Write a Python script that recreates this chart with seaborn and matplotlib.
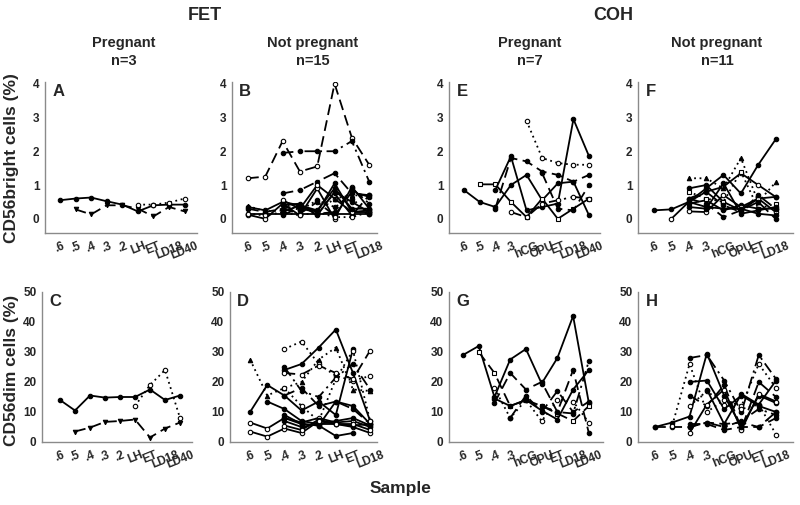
import numpy as np
import seaborn as sns
import matplotlib.pyplot as plt

nan = np.nan

# x categories
fet_days = [".6", ".5", ".4", ".3", ".2", "LH", "ET", "LD18", "LD40"]
fet_days_np = fet_days[:8]
coh_days = [".6", ".5", ".4", ".3", "hCG", "OPU", "ET", "LD18", "LD40"]
coh_days_np = coh_days[:8]

# Panel A - FET pregnant, CD56bright
a_vals = [
    [0.55, 0.60, 0.63, 0.52, 0.42, 0.22, 0.40, 0.42, 0.42],
    [nan, 0.28, 0.13, 0.40, 0.40, 0.30, 0.07, 0.35, 0.22],
    [nan, nan, nan, nan, nan, 0.42, 0.42, 0.48, 0.60],
]
a_ls = ["-", "--", ":"]
a_mk = ["o", "v", "c"]

# Panel C - FET pregnant, CD56dim
c_vals = [
    [14, 10.5, 15.5, 14.8, 15, 15, 17.5, 14, 15.5],
    [nan, 3.5, 4.8, 6.7, 7, 7.5, 1.5, 4.5, 6.5],
    [nan, nan, nan, nan, nan, 12, 19, 24, 8],
]
c_ls = ["-", "--", ":"]
c_mk = ["o", "v", "c"]

# Panel B - FET not pregnant, CD56bright
b_vals = [
    [1.2, 1.25, 2.3, 1.4, 1.55, 4.0, 2.4, 1.6],
    [nan, nan, 1.95, 2.0, 2.0, 2.0, 2.3, 1.1],
    [nan, nan, 0.75, 0.85, 1.1, 1.35, 0.75, 0.7],
    [0.15, 0.15, 0.15, 0.15, 0.15, 0.15, 0.15, 0.15],
    [0.35, 0.25, 0.5, 0.4, 0.2, 1.05, 0.2, 0.25],
    [0.12, 0.0, 0.45, 0.1, 0.9, 0.0, 0.95, 0.3],
    [nan, nan, 0.4, 0.45, 0.1, 0.8, 0.5, 0.2],
    [0.3, 0.2, 0.3, 0.4, 0.2, 0.75, 0.1, 0.7],
    [nan, nan, 0.55, 0.3, 1.0, 0.6, 0.2, 0.2],
    [nan, nan, 0.3, 0.15, 0.5, 0.1, 0.8, 0.65],
    [0.15, 0.1, 0.2, 0.1, 0.2, 0.05, 0.05, 0.2],
    [nan, nan, 0.45, 0.25, 0.55, 0.35, 0.6, 0.15],
    [nan, nan, 0.2, 0.4, 0.25, 0.9, 0.3, 0.3],
    [0.38, 0.22, 0.25, 0.3, 0.2, 0.6, 0.7, 0.68],
    [nan, nan, 0.1, 0.35, 0.15, 0.2, 0.9, 0.45],
]
b_ls = ["--", "-.", "-.", "-", "-", "-", "-", "--", "-", "--", ":", ":", "-", ":", "-."]
b_mk = ["c", "o", "o", "c", "o", "c", "o", "o", "c", "o", "c", "o", "o", "^", "o"]

# Panel D - FET not pregnant, CD56dim
d_vals = [
    [10, 19, 15.5, 10.5, 13.5, 9, 31, nan],
    [27.5, 15.5, 18, 20, 27.5, 31.5, 17.5, 17],
    [6.5, 4.5, 8, 6.5, 8, 6.5, 7, 5],
    [3.5, 1.8, 4.5, 3, 7, 6, 5, 3],
    [nan, 13.5, 11, 7, 6, 6, 5.5, 6],
    [nan, nan, 31, 33.5, 26, 22, 20.5, 22],
    [nan, nan, 24, 26, 31.5, 37.5, 23, 7],
    [nan, nan, 23, 22.5, 25.5, 23, 21, 30.5],
    [nan, nan, 15.5, 18, 12, 13.5, 11, 6],
    [nan, nan, 8, 6, 5.5, 2, 3, nan],
    [nan, nan, 25, 17, 15, 21.5, 26, 17.5],
    [nan, nan, 7, 5, 6, 7, 8, 5.5],
    [nan, nan, 5.5, 4, 7.5, 6, 6, 4],
    [nan, nan, 9, 6, 5.5, 13.5, 12, 6],
    [nan, nan, 18, 12, 7, 21, 30.5, 7],
]
d_ls = ["-", ":", "-", "-", "-", ":", "-", "--", "--", "-", "-.", "-", "-", "-", ":"]
d_mk = ["o", "^", "c", "c", "o", "c", "o", "c", "o", "o", "o", "o", "c", "o", "c"]

# Panel E - COH pregnant, CD56bright
e_vals = [
    [0.85, 0.5, 0.35, 1.0, 1.3, 0.55, 1.05, 1.1, 0.1],
    [nan, nan, nan, nan, 2.9, 1.8, 1.65, 1.6, 1.6],
    [nan, 1.02, 1.02, 0.5, 0.05, 0.6, 0.0, 0.3, 0.6],
    [nan, nan, 0.3, 1.8, 1.7, 1.4, 1.3, 1.1, 1.3],
    [nan, nan, 0.85, 1.85, 0.25, 0.35, 0.45, 2.95, 1.85],
    [nan, nan, nan, 0.2, 0.05, 0.45, 0.55, 0.65, 0.6],
    [nan, nan, nan, nan, nan, 1.35, 0.3, 0.25, 1.0],
]
e_ls = ["-", ":", "-", "--", "-", "-.", "--"]
e_mk = ["o", "c", "s", "o", "o", "c", "o"]

# Panel G - COH pregnant, CD56dim
g_vals = [
    [29, 32, 15, 27.5, 31, 19.5, 28, 42, 13],
    [nan, 30, 23, 12, 14, 12, 9.5, 7, 12],
    [nan, nan, 13, 23, 17.5, 20, 10, 24, 3],
    [nan, nan, 18, 8, 14, 7, 14, 13.5, 6.5],
    [nan, nan, nan, 8, 15.5, 10, 17, 10, 13.5],
    [nan, nan, 14.5, 12, 14, 10.5, 7.5, 17.5, 24],
    [nan, nan, nan, nan, nan, 12, 10, 9.5, 27],
]
g_ls = ["-", "--", "--", ":", "--", "-", "-."]
g_mk = ["o", "s", "o", "c", "o", "o", "o"]

# Panel F - COH not pregnant, CD56bright
f_vals = [
    [0.25, 0.28, 0.5, 0.9, 1.3, 0.75, 1.6, 2.35],
    [nan, 0.0, 0.5, 0.8, 0.95, 1.35, 1.0, 0.65],
    [nan, nan, 1.2, 1.2, 0.9, 1.8, 0.5, 1.08],
    [nan, nan, 0.9, 1.0, 0.5, 0.25, 0.6, 0.65],
    [nan, nan, 0.45, 0.55, 0.25, 0.4, 0.3, 0.3],
    [nan, nan, 0.22, 0.2, 0.7, 0.35, 0.6, 0.2],
    [nan, nan, 0.6, 0.45, 0.05, 0.25, 0.5, 0.0],
    [nan, nan, 0.8, 0.6, 0.5, 1.4, 0.3, 0.45],
    [nan, nan, 0.35, 0.3, 1.05, 0.15, 0.25, 0.35],
    [nan, nan, 0.6, 0.8, 0.4, 0.2, 0.7, 0.3],
    [nan, nan, 0.5, 0.35, 0.3, 0.3, 0.15, 0.1],
]
f_ls = ["-", "-", ":", "-", "-", "-", "--", ":", "-", "-.", "-"]
f_mk = ["o", "c", "^", "o", "o", "c", "o", "s", "o", "o", "o"]

# Panel H - COH not pregnant, CD56dim
h_vals = [
    [5, 6.5, 8.5, 29.5, 15.5, 5, 15.5, 13],
    [5, 5, 5, 6.5, 6, 6.5, 5, 10],
    [nan, nan, 28, 29, 20.5, 10, 29, 21],
    [nan, 5.5, 26, 10, 14, 12, 26, 18],
    [nan, nan, 20, 20.5, 11, 15.5, 12, 10],
    [nan, nan, 15.5, 12, 19, 4.5, 20, 15],
    [nan, nan, 3, 12.5, 17.5, 4, 16, 13.5],
    [nan, nan, 12, 17, 12.5, 11, 12.5, 2.5],
    [nan, nan, 6, 6, 4, 5, 5, 8],
    [nan, nan, nan, 17.5, 6, 16, 12.5, 20.5],
    [nan, nan, 5, 6.5, 5, 7, 11, 9],
]
h_ls = ["-", "--", "-.", ":", "-", "--", "-", ":", "--", "-", "-."]
h_mk = ["o", "o", "o", "c", "o", "o", "c", "c", "o", "o", "o"]

DASHES = {"-": "-", "--": (0, (6, 3)), "-.": (0, (6, 2.5, 1.2, 2.5)), ":": (0, (1, 2))}

sns.set_style("white")
plt.rcParams["font.family"] = ["Liberation Sans", "DejaVu Sans"]

fig = plt.figure(figsize=(8, 5.05), dpi=100)


def add_ax(l, t, r, b):
    return fig.add_axes([l / 800, (505 - b) / 505, (r - l) / 800, (b - t) / 505])


def draw_panel(rect, xlim, days, vals, ls, mk, ylim, yticks, letter):
    ax = add_ax(*rect)
    for y, style, m in zip(vals, ls, mk):
        y = np.array(y, dtype=float)
        x = np.arange(len(y))
        ok = ~np.isnan(y)
        face = "white" if m in ("c", "s") else "black"
        marker = "o" if m == "c" else m
        sns.lineplot(x=x[ok], y=y[ok], ax=ax, color="black", linestyle=DASHES[style],
                     linewidth=1.3, marker=marker, markersize=3.2,
                     markerfacecolor=face, markeredgecolor="black", markeredgewidth=0.8,
                     legend=False)
    ax.set_xlim(*xlim)
    ax.set_ylim(*ylim)
    ax.set_xticks(range(len(days)))
    ax.set_xticklabels(days, rotation=22, fontsize=8.5, fontweight="bold", ha="center")
    ax.set_yticks(yticks)
    ax.set_yticklabels([str(v) for v in yticks], fontsize=8.5, fontweight="bold")
    ax.tick_params(axis="y", length=0, pad=4)
    ax.tick_params(axis="x", length=0, pad=5)
    ax.set_xlabel("")
    ax.set_ylabel("")
    sns.despine(ax=ax)
    for s in ("left", "bottom"):
        ax.spines[s].set_color("#8a8a8a")
        ax.spines[s].set_linewidth(1.0)
    ax.text(0.05, 0.99, letter, transform=ax.transAxes, fontsize=12,
            fontweight="bold", va="top", ha="left")
    return ax


top_ylim = (-0.42, 4.05)
top_ticks = [0, 1, 2, 3, 4]
bot_ylim = (0, 50)
bot_ticks = [0, 10, 20, 30, 40, 50]

draw_panel((45, 82, 197, 233), (-0.96, 8.8), fet_days, a_vals, a_ls, a_mk, top_ylim, top_ticks, "A")
draw_panel((232, 82, 377, 233), (-0.92, 7.45), fet_days_np, b_vals, b_ls, b_mk, top_ylim, top_ticks, "B")
draw_panel((449, 82, 600, 233), (-0.96, 8.7), coh_days, e_vals, e_ls, e_mk, top_ylim, top_ticks, "E")
draw_panel((638, 82, 793, 233), (-0.92, 8.0), coh_days_np, f_vals, f_ls, f_mk, top_ylim, top_ticks, "F")
draw_panel((42, 292, 192, 442), (-1.2, 8.8), fet_days, c_vals, c_ls, c_mk, bot_ylim, bot_ticks, "C")
draw_panel((230, 292, 377, 442), (-1.17, 7.4), fet_days_np, d_vals, d_ls, d_mk, bot_ylim, bot_ticks, "D")
draw_panel((449, 292, 603, 442), (-0.89, 8.9), coh_days, g_vals, g_ls, g_mk, bot_ylim, bot_ticks, "G")
draw_panel((638, 292, 793, 442), (-0.98, 7.98), coh_days_np, h_vals, h_ls, h_mk, bot_ylim, bot_ticks, "H")

# headers
fig.text(205 / 800, 1 - 15 / 505, "FET", ha="center", va="center", fontsize=13, fontweight="bold")
fig.text(613 / 800, 1 - 15 / 505, "COH", ha="center", va="center", fontsize=13, fontweight="bold")
subtitles = [("Pregnant\nn=3", 124), ("Not pregnant\nn=15", 313),
             ("Pregnant\nn=7", 530), ("Not pregnant\nn=11", 717)]
for txt, xc in subtitles:
    fig.text(xc / 800, 1 - 52 / 505, txt, ha="center", va="center", fontsize=10.5,
             fontweight="bold", linespacing=1.3)

fig.text(12 / 800, 1 - 158 / 505, "CD56bright cells (%)", rotation=90, ha="center", va="center",
         fontsize=12.5, fontweight="bold")
fig.text(12 / 800, 1 - 370 / 505, "CD56dim cells (%)", rotation=90, ha="center", va="center",
         fontsize=12.5, fontweight="bold")
fig.text(400 / 800, 1 - 488 / 505, "Sample", ha="center", va="center",
         fontsize=12.5, fontweight="bold")

fig.savefig("out.png", dpi=100)
